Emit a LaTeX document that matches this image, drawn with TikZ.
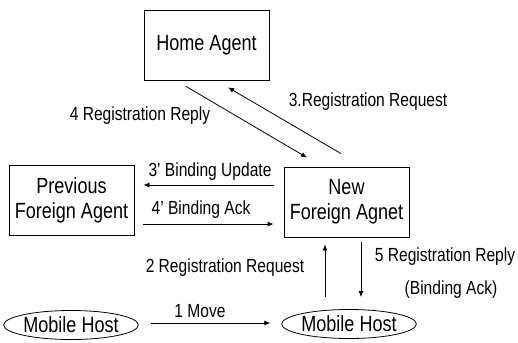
\documentclass[tikz,border=0pt]{standalone}
\usepackage{fontspec}
\setmainfont{Liberation Sans}[FakeStretch=0.82]
\usetikzlibrary{calc,shapes.geometric,arrows.meta}

\begin{document}
\begin{tikzpicture}[x=1pt, y=-1pt, line width=0.8pt,
    agent/.style={draw, rectangle, minimum width=125pt, minimum height=70pt, align=center, font=\fontsize{22}{25}\selectfont},
    host/.style={draw, ellipse, inner sep=0pt, minimum width=130pt, minimum height=29pt, font=\fontsize{22}{25}\selectfont},
    msg/.style={font=\fontsize{19}{22}\selectfont},
    arr/.style={-{Latex[length=6pt,width=5pt]}}]
    \useasboundingbox (0, 0) rectangle (518, 342);
    \node[agent] (home) at (206.5, 45) {Home Agent};
    \node[agent] (prev) at (71.5, 200.5) {Previous\\Foreign Agent};
    \node[agent] (nfa) at (346.5, 202) {New\\Foreign Agnet};
    \node[host] (mh1) at (71, 325) {Mobile Host};
    \node[host] (mh2) at (349, 324) {Mobile Host};
    \draw[arr] ($(home.south)+(-20.5, 6)$) -- ($(nfa.north)+(-39.5, -9)$);
    \draw[arr] ($(nfa.north)+(-5.5, -13)$) -- ($(home.south)+(21.5, 7)$);
    \draw[arr] ($(nfa.west)+(-10, -17)$) -- ($(prev.east)+(9, -15.5)$);
    \draw[arr] ($(prev.east)+(9, 23.5)$) -- ($(nfa.west)+(-10, 22)$);
    \draw[arr] ($(mh1.east)+(12.5, -2)$) -- ($(mh2.west)+(-11, -1)$);
    \draw[arr] ($(mh2.north)+(-24, -12)$) -- ($(nfa.south)+(-21.5, 7)$);
    \draw[arr] ($(nfa.south)+(14.5, 5)$) -- ($(mh2.north)+(12, -12)$);
    \node[msg] (reply4) at (140, 116) {4 Registration Reply};
    \node[msg] (request3) at (368, 102) {3.Registration Request};
    \node[msg] (update3) at (210, 172) {3' Binding Update};
    \node[msg] (ack4) at (201, 210) {4' Binding Ack};
    \node[msg] (request2) at (225, 268) {2 Registration Request};
    \node[msg] (reply5) at (445, 257) {5 Registration Reply};
    \node[msg] (ack5) at (451, 290) {(Binding Ack)};
    \node[msg] (move1) at (200, 311) {1 Move};
\end{tikzpicture}
\end{document}
